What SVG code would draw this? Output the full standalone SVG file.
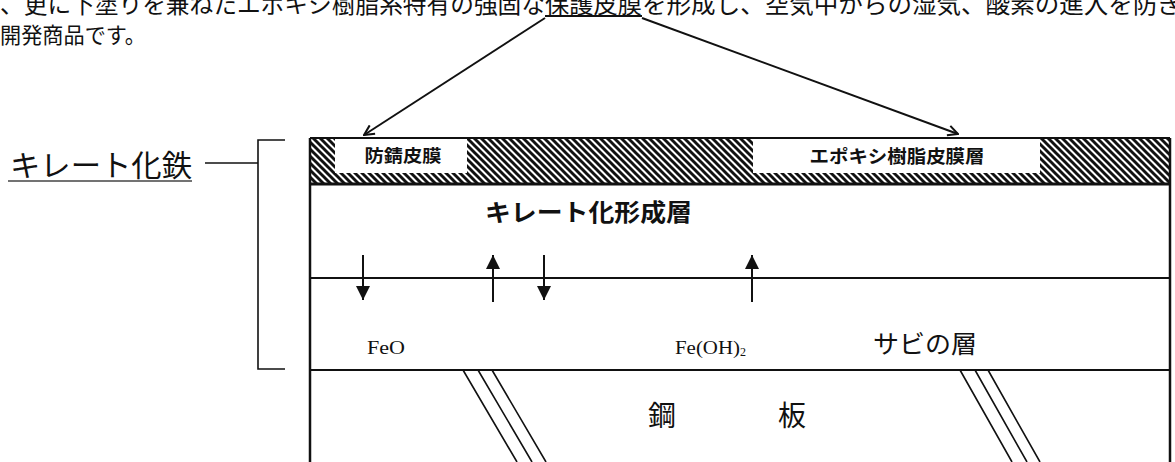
<svg xmlns="http://www.w3.org/2000/svg" width="1175" height="462" viewBox="0 0 1175 462">
  <style>
    .jp { font-family: "Noto Sans CJK JP", "Noto Sans", sans-serif; fill: #111; }
    .bold { font-weight: bold; }
    .serif { font-family: "Liberation Serif", "Noto Sans CJK JP", serif; fill: #111; }
    .ln { stroke: #111; stroke-width: 2; fill: none; }
    .thin { stroke: #111; stroke-width: 1.6; fill: none; }
    .ptr { stroke: #111; stroke-width: 2; fill: none; }
    .arr { stroke: #111; stroke-width: 2; fill: none; }
  </style>
  <defs>
    <pattern id="hatch" patternUnits="userSpaceOnUse" width="7" height="7">
      <path d="M-2,-2 L9,9 M-2,5 L2,9 M5,-2 L9,2" stroke="#111" stroke-width="2.9"/>
    </pattern>
    <marker id="open" viewBox="0 0 12 12" refX="11" refY="6" markerWidth="12" markerHeight="12" markerUnits="userSpaceOnUse" orient="auto">
      <path d="M1,1 L11,6 L1,11" fill="none" stroke="#111" stroke-width="2"/>
    </marker>
    <marker id="tri" viewBox="0 0 14 14" refX="14" refY="7" markerWidth="15" markerHeight="14" markerUnits="userSpaceOnUse" orient="auto">
      <path d="M0,0 L14,7 L0,14 Z" fill="#111"/>
    </marker>
  </defs>
  <rect width="1175" height="462" fill="#ffffff"/>

  <g id="header">
    <text class="jp" x="0" y="13" font-size="24" textLength="545" lengthAdjust="spacingAndGlyphs">、更に下塗りを兼ねたエポキシ樹脂系特有の強固な</text>
    <text class="jp" x="545" y="13" font-size="24" textLength="97" lengthAdjust="spacingAndGlyphs">保護皮膜</text>
    <line x1="545" y1="16" x2="642" y2="16" stroke="#111" stroke-width="2"/>
    <text class="jp" x="642" y="13" font-size="24" textLength="540" lengthAdjust="spacingAndGlyphs">を形成し、空気中からの湿気、酸素の進入を防ぎ</text>
    <text class="jp" x="0" y="43" font-size="22" textLength="146" lengthAdjust="spacingAndGlyphs">開発商品です。</text>
  </g>

  <g id="chelate-iron-label">
    <text class="jp" x="10" y="176" font-size="30" textLength="182" lengthAdjust="spacingAndGlyphs">キレート化鉄</text>
    <line x1="8" y1="181" x2="192" y2="181" stroke="#444" stroke-width="1.4"/>
    <line class="thin" x1="205" y1="163" x2="258" y2="163"/>
    <path class="thin" d="M285,140 H258 V369 H285"/>
  </g>

  <g id="coating-layer">
    <rect x="310" y="138" width="860" height="46" fill="url(#hatch)"/>
    <rect x="335" y="139" width="132" height="34" fill="#fff"/>
    <rect x="753" y="139" width="287" height="34" fill="#fff"/>
    <text class="jp bold" x="403" y="162" font-size="17" text-anchor="middle" textLength="77" lengthAdjust="spacingAndGlyphs">防錆皮膜</text>
    <text class="jp bold" x="897" y="163" font-size="18" text-anchor="middle" textLength="175" lengthAdjust="spacingAndGlyphs">エポキシ樹脂皮膜層</text>
    <line x1="310" y1="138" x2="1170" y2="138" stroke="#111" stroke-width="2"/>
    <line x1="310" y1="184" x2="1170" y2="184" stroke="#111" stroke-width="3"/>
  </g>

  <g id="chelate-layer">
    <text class="jp bold" x="485" y="221" font-size="24" textLength="207" lengthAdjust="spacingAndGlyphs">キレート化形成層</text>
    <line class="ln" x1="310" y1="278" x2="1170" y2="278"/>
  </g>

  <g id="rust-layer">
    <text class="serif" x="367" y="354" font-size="19" textLength="38" lengthAdjust="spacingAndGlyphs">FeO</text>
    <text class="serif" x="675" y="354" font-size="19" textLength="65" lengthAdjust="spacingAndGlyphs">Fe(OH)</text>
    <text class="serif" x="740" y="356" font-size="12">2</text>
    <text class="jp" x="873" y="353" font-size="25" textLength="104" lengthAdjust="spacingAndGlyphs">サビの層</text>
    <line class="ln" x1="310" y1="370" x2="1170" y2="370"/>
  </g>

  <g id="steel-plate">
    <text class="jp" x="648" y="426" font-size="28">鋼</text>
    <text class="jp" x="778" y="426" font-size="28">板</text>
    <path class="thin" d="M463,370 L517,462 M478,370 L532,462 M492,370 L546,462"/>
    <path class="thin" d="M960,370 L1012,462 M975,370 L1027,462 M988,370 L1040,462"/>
  </g>

  <g id="frame">
    <line x1="310" y1="138" x2="310" y2="462" stroke="#111" stroke-width="2.5"/>
    <line x1="1170" y1="138" x2="1170" y2="462" stroke="#111" stroke-width="2.5"/>
  </g>

  <g id="connectors">
    <line class="ptr" x1="545" y1="18" x2="364" y2="135" marker-end="url(#open)"/>
    <line class="ptr" x1="642" y1="18" x2="958" y2="134" marker-end="url(#open)"/>
    <line class="arr" x1="363" y1="255" x2="363" y2="300" marker-end="url(#tri)"/>
    <line class="arr" x1="493" y1="302" x2="493" y2="255" marker-end="url(#tri)"/>
    <line class="arr" x1="544" y1="255" x2="544" y2="300" marker-end="url(#tri)"/>
    <line class="arr" x1="752" y1="302" x2="752" y2="255" marker-end="url(#tri)"/>
  </g>
</svg>
